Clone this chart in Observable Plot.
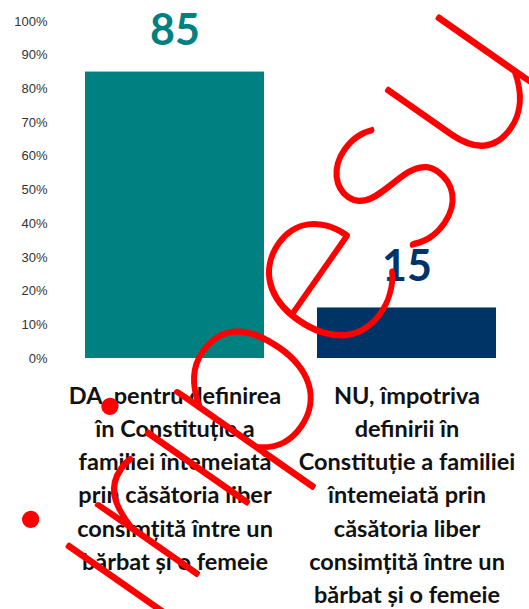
<!DOCTYPE html>
<html>
<head>
<meta charset="utf-8">
<script src="https://cdn.jsdelivr.net/npm/d3@7"></script>
<script src="https://cdn.jsdelivr.net/npm/@observablehq/plot@0.6"></script>
<style>
  html, body { margin: 0; padding: 0; background: #fff; }
</style>
</head>
<body>
<div id="chart"></div>
<script>
const categories = [
  "DA, pentru definirea\nîn Constituție a\nfamiliei întemeiată\nprin căsătoria liber\nconsimțită între un\nbărbat și o femeie",
  "NU, împotriva\ndefinirii în\nConstituție a familiei\nîntemeiată prin\ncăsătoria liber\nconsimțită între un\nbărbat și o femeie"
];
const values = [85, 15];
const colors = ["#008080", "#003366"];
const yTicks = [0, 10, 20, 30, 40, 50, 60, 70, 80, 90, 100];
const watermark = ["iripesu"];

const data = categories.map((c, i) => ({category: c, value: values[i], color: colors[i]}));

const chart = Plot.plot({
  width: 529,
  height: 609,
  marginTop: 21,
  marginBottom: 251,
  marginLeft: 62,
  marginRight: 9,
  style: {background: "#fff"},
  x: {domain: categories, paddingInner: 0.228, paddingOuter: 0.1, axis: null},
  y: {domain: [0, 100], axis: null},
  marks: [
    Plot.axisY({ticks: yTicks, tickFormat: d => d + "%", tickSize: 0, tickPadding: 15, label: null,
      fontSize: 13, fontFamily: "Liberation Sans, Arial, sans-serif", fill: "#333"}),
    Plot.barY(data, {x: "category", y: "value", fill: "color"}),
    Plot.text(data, {x: "category", y: "value", text: d => String(d.value), fill: "color", dy: -41,
      fontSize: 43, fontWeight: "bold", fontFamily: "Lato, sans-serif"}),
    Plot.text(data, {x: "category", y: 0, text: "category", lineAnchor: "top", dy: 22, lineHeight: 1.41,
      fontSize: 23.5, fontWeight: "bold", fontFamily: "Lato, sans-serif", fill: "#111"}),
    Plot.text(watermark, {frameAnchor: "top-left", textAnchor: "middle", dx: 145, dy: 229, rotate: -55, fontSize: 250,
      fontFamily: "Lato, sans-serif", fontWeight: 100, fill: "#ff0000", stroke: "#ff0000", strokeWidth: 3.5,
      letterSpacing: 40})
  ]
});
document.getElementById("chart").appendChild(chart);
</script>
</body>
</html>
